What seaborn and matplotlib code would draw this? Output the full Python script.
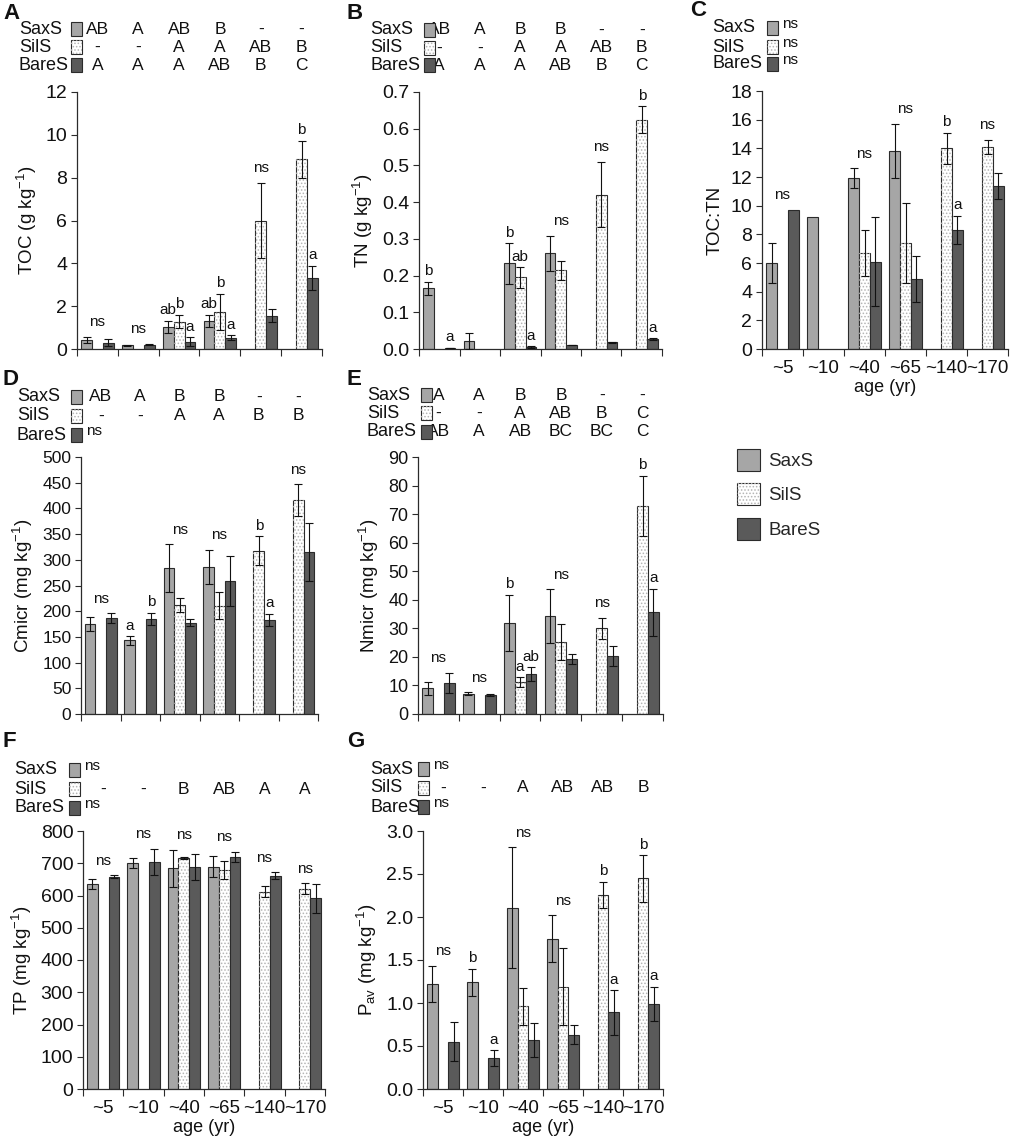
import numpy as np
import pandas as pd
import matplotlib
matplotlib.use("Agg")
import matplotlib.pyplot as plt
import matplotlib.transforms as mtransforms
from matplotlib.patches import Patch, Rectangle
from matplotlib.ticker import FormatStrFormatter, FixedLocator
import seaborn as sns

nan = np.nan
ages = ["~5", "~10", "~40", "~65", "~140", "~170"]
sites = ["SaxS", "SilS", "BareS"]

# ---- A: TOC ----
toc_sax = [0.42, 0.17, 1.05, 1.32, nan, nan]
toc_sax_err = [0.15, 0.03, 0.28, 0.28, nan, nan]
toc_sil = [nan, nan, 1.28, 1.72, 6.0, 8.86]
toc_sil_err = [nan, nan, 0.32, 0.85, 1.75, 0.87]
toc_bare = [0.30, 0.21, 0.34, 0.53, 1.55, 3.32]
toc_bare_err = [0.15, 0.03, 0.22, 0.11, 0.30, 0.57]
# ---- B: TN ----
tn_sax = [0.165, 0.022, 0.233, 0.261, nan, nan]
tn_sax_err = [0.018, 0.022, 0.055, 0.048, nan, nan]
tn_sil = [nan, nan, 0.195, 0.214, 0.420, 0.625]
tn_sil_err = [nan, nan, 0.028, 0.027, 0.089, 0.036]
tn_bare = [0.003, nan, 0.005, 0.011, 0.018, 0.027]
tn_bare_err = [0.001, nan, 0.002, 0.001, 0.002, 0.003]
# ---- C: TOC:TN ----
ctn_sax = [6.0, 9.2, 11.9, 13.8, nan, nan]
ctn_sax_err = [1.4, nan, 0.7, 1.9, nan, nan]
ctn_sil = [nan, nan, 6.7, 7.4, 14.0, 14.1]
ctn_sil_err = [nan, nan, 1.6, 2.8, 1.1, 0.5]
ctn_bare = [9.7, nan, 6.1, 4.9, 8.3, 11.4]
ctn_bare_err = [nan, nan, 3.1, 1.6, 1.0, 0.9]
# ---- D: Cmicr ----
cmic_sax = [175, 143, 284, 286, nan, nan]
cmic_sax_err = [13, 8, 46, 34, nan, nan]
cmic_sil = [nan, nan, 212, 211, 318, 416]
cmic_sil_err = [nan, nan, 13, 27, 28, 31]
cmic_bare = [187, 185, 178, 259, 183, 315]
cmic_bare_err = [9, 12, 6, 49, 12, 57]
# ---- E: Nmicr ----
nmic_sax = [9.0, 7.1, 31.8, 34.2, nan, nan]
nmic_sax_err = [2.2, 0.5, 9.9, 9.4, nan, nan]
nmic_sil = [nan, nan, 11.1, 25.2, 30.0, 73.0]
nmic_sil_err = [nan, nan, 1.8, 6.3, 3.7, 10.5]
nmic_bare = [10.9, 6.7, 14.0, 19.2, 20.3, 35.6]
nmic_bare_err = [3.5, 0.4, 2.3, 1.8, 3.5, 8.3]
# ---- F: TP ----
tp_sax = [635, 700, 684, 689, nan, nan]
tp_sax_err = [15, 15, 58, 33, nan, nan]
tp_sil = [nan, nan, 716, 679, 612, 621]
tp_sil_err = [nan, nan, 2, 28, 17, 17]
tp_bare = [658, 705, 689, 720, 661, 591]
tp_bare_err = [5, 40, 40, 16, 11, 45]
# ---- G: Pav ----
pav_sax = [1.22, 1.24, 2.11, 1.75, nan, nan]
pav_sax_err = [0.21, 0.16, 0.70, 0.27, nan, nan]
pav_sil = [nan, nan, 0.96, 1.19, 2.26, 2.45]
pav_sil_err = [nan, nan, 0.21, 0.45, 0.15, 0.27]
pav_bare = [0.55, 0.36, 0.57, 0.63, 0.89, 0.99]
pav_bare_err = [0.23, 0.09, 0.20, 0.11, 0.26, 0.20]

# significance letters above bars: (age index, site or None for group, text)
annot_a = [(0, None, "ns"), (1, None, "ns"), (2, "SaxS", "ab"), (2, "SilS", "b"), (2, "BareS", "a"),
           (3, "SaxS", "ab"), (3, "SilS", "b"), (3, "BareS", "a"), (4, None, "ns"),
           (5, "SilS", "b"), (5, "BareS", "a")]
annot_b = [(0, "SaxS", "b"), (0, "BareS", "a"), (2, "SaxS", "b"), (2, "SilS", "ab"), (2, "BareS", "a"),
           (3, None, "ns"), (4, None, "ns"), (5, "SilS", "b"), (5, "BareS", "a")]
annot_c = [(0, None, "ns"), (2, None, "ns"), (3, None, "ns"), (4, "SilS", "b"), (4, "BareS", "a"),
           (5, None, "ns")]
annot_d = [(0, None, "ns"), (1, "SaxS", "a"), (1, "BareS", "b"), (2, None, "ns"), (3, None, "ns"),
           (4, "SilS", "b"), (4, "BareS", "a"), (5, None, "ns")]
annot_e = [(0, None, "ns"), (1, None, "ns"), (2, "SaxS", "b"), (2, "SilS", "a"), (2, "BareS", "ab"),
           (3, None, "ns"), (4, None, "ns"), (5, "SilS", "b"), (5, "BareS", "a")]
annot_f = [(0, None, "ns"), (1, None, "ns"), (2, None, "ns"), (3, None, "ns"), (4, None, "ns"),
           (5, None, "ns")]
annot_g = [(0, None, "ns"), (1, "SaxS", "b"), (1, "BareS", "a"), (2, None, "ns"), (3, None, "ns"),
           (4, "SilS", "b"), (4, "BareS", "a"), (5, "SilS", "b"), (5, "BareS", "a")]

# letters in the tables above each panel
tab_a = {"SaxS": ["AB", "A", "AB", "B", "-", "-"], "SilS": ["-", "-", "A", "A", "AB", "B"],
         "BareS": ["A", "A", "A", "AB", "B", "C"]}
tab_b = {"SaxS": ["AB", "A", "B", "B", "-", "-"], "SilS": ["-", "-", "A", "A", "AB", "B"],
         "BareS": ["A", "A", "A", "AB", "B", "C"]}
tab_c = {"SaxS": "ns", "SilS": "ns", "BareS": "ns"}
tab_d = {"SaxS": ["AB", "A", "B", "B", "-", "-"], "SilS": ["-", "-", "A", "A", "B", "B"],
         "BareS": "ns"}
tab_e = {"SaxS": ["A", "A", "B", "B", "-", "-"], "SilS": ["-", "-", "A", "AB", "B", "C"],
         "BareS": ["AB", "A", "AB", "BC", "BC", "C"]}
tab_f = {"SaxS": "ns", "SilS": ["-", "-", "B", "AB", "A", "A"], "BareS": "ns"}
tab_g = {"SaxS": "ns", "SilS": ["-", "-", "A", "AB", "AB", "B"], "BareS": "ns"}

# ---------------- style ----------------
sns.set_theme(style="ticks")
plt.rcParams["font.family"] = ["Liberation Sans", "DejaVu Sans"]
plt.rcParams["mathtext.default"] = "regular"
plt.rcParams["hatch.linewidth"] = 0.7

palette = {"SaxS": "#a6a6a6", "SilS": "#ffffff", "BareS": "#5a5a5a"}
EDGE = "#2b2b2b"
DOTS = "#b5b5b5"
HATCH = "....."
TXT = "#111111"

W, H = 1010, 1142
fig = plt.figure(figsize=(W / 100, H / 100), dpi=100)


def add_axes_px(l, t, r, b):
    return fig.add_axes([l / W, 1 - b / H, (r - l) / W, (b - t) / H])


offsets = {s: (i - 1) * 0.8 / 3 for i, s in enumerate(sites)}


def draw_panel(p):
    ax = add_axes_px(*p["rect"])
    means = {"SaxS": p["sax"], "SilS": p["sil"], "BareS": p["bare"]}
    errs = {"SaxS": p["sax_e"], "SilS": p["sil_e"], "BareS": p["bare_e"]}
    rows = []
    for s in sites:
        for a, v, e in zip(ages, means[s], errs[s]):
            if not np.isnan(v):
                rows.append({"age": a, "site": s, "value": v, "err": e})
    df = pd.DataFrame(rows)
    sns.barplot(data=df, x="age", y="value", hue="site", order=ages, hue_order=sites,
                palette=palette, errorbar=None, edgecolor=EDGE, linewidth=0.8,
                legend=False, ax=ax, zorder=2)
    # dotted fill for SilS bars
    for patch in list(ax.patches):
        fc = patch.get_facecolor()
        if fc[0] > 0.95 and fc[1] > 0.95 and fc[2] > 0.95:
            ov = Rectangle(patch.get_xy(), patch.get_width(), patch.get_height(),
                           facecolor="none", edgecolor=DOTS, linewidth=0, hatch=HATCH, zorder=2.5)
            ax.add_patch(ov)
    # error bars
    d = df.dropna(subset=["err"])
    xs = [ages.index(a) + offsets[s] for a, s in zip(d["age"], d["site"])]
    ax.errorbar(xs, d["value"], yerr=d["err"], fmt="none", ecolor=TXT,
                elinewidth=0.8, capsize=2.8, capthick=0.8, zorder=4)
    # significance letters
    for g, s, txt in p["annot"]:
        if s is None:
            tops = []
            for ss in sites:
                v, e = means[ss][g], errs[ss][g]
                if not np.isnan(v):
                    tops.append(v + (0 if np.isnan(e) else e))
            x, y, off = g, max(tops), 5.5
        else:
            v, e = means[s][g], errs[s][g]
            x, y, off = g + offsets[s], v + (0 if np.isnan(e) else e), 2.5
        ax.annotate(txt, (x, y), xytext=(0, off), textcoords="offset points",
                    ha="center", va="bottom", fontsize=11, color=TXT)
    # axes styling
    tfs = p["tfs"]
    ax.set_xlim(-0.5, 5.5)
    ax.set_ylim(p["ylim"])
    ax.set_yticks(p["yticks"])
    if p.get("fmt"):
        ax.yaxis.set_major_formatter(FormatStrFormatter(p["fmt"]))
    sns.despine(ax=ax)
    for sp in ("left", "bottom"):
        ax.spines[sp].set_color(EDGE)
        ax.spines[sp].set_linewidth(0.9)
    ax.tick_params(axis="y", left=True, direction="out", length=4, width=0.8,
                   color=EDGE, labelsize=tfs, pad=3, labelcolor=TXT)
    ax.xaxis.set_minor_locator(FixedLocator(np.arange(-0.5, 6, 1)))
    ax.tick_params(axis="x", which="minor", bottom=True, direction="out", length=5,
                   width=0.8, color=EDGE)
    ax.tick_params(axis="x", which="major", bottom=True, length=0, labelsize=13.5,
                   pad=8, labelcolor=TXT)
    if p["xlabels"]:
        ax.set_xticks(range(6))
        ax.set_xticklabels(ages)
        ax.set_xlabel("age (yr)", fontsize=13, labelpad=1, color=TXT)
    else:
        ax.set_xticklabels([])
        ax.set_xlabel("")
    ax.set_ylabel(p["ylabel"], fontsize=13.5, color=TXT, labelpad=5)
    ax.grid(False)

    # table above axes
    trans = mtransforms.blended_transform_factory(ax.transData, fig.transFigure)
    for i, s in enumerate(sites):
        ypx = p["rows_y"][i]
        yf = 1 - ypx / H
        fig.text(p["label_x"] / W, yf, s, ha="left", va="center", fontsize=13, color=TXT)
        sx = p["swatch_x"]
        sw = Rectangle((sx / W, 1 - (ypx + 7) / H), 11 / W, 14 / H, transform=fig.transFigure,
                       facecolor=palette[s], edgecolor=EDGE, linewidth=0.8)
        fig.add_artist(sw)
        if s == "SilS":
            fig.add_artist(Rectangle((sx / W, 1 - (ypx + 7) / H), 11 / W, 14 / H,
                                     transform=fig.transFigure, facecolor="none",
                                     edgecolor=DOTS, linewidth=0, hatch=HATCH))
        letters = p["table"][s]
        if isinstance(letters, str):
            fig.text((sx + 15) / W, yf + 4 / H, letters, ha="left", va="center",
                     fontsize=11, color=TXT)
        else:
            for g, t in enumerate(letters):
                ax.text(g, yf, t, transform=trans, ha="center", va="center",
                        fontsize=12.5, color=TXT)
    fig.text(p["letter_xy"][0] / W, 1 - p["letter_xy"][1] / H, p["letter"],
             ha="left", va="top", fontsize=16, fontweight="bold", color=TXT)
    return ax


panels = [
    dict(letter="A", letter_xy=(3, 3), rect=(77, 92, 322, 349), sax=toc_sax, sax_e=toc_sax_err,
         sil=toc_sil, sil_e=toc_sil_err, bare=toc_bare, bare_e=toc_bare_err, annot=annot_a,
         table=tab_a, ylim=(0, 12), yticks=np.arange(0, 13, 2), fmt=None, tfs=14,
         ylabel="TOC (g kg$^{-1}$)", xlabels=False, rows_y=(29, 47, 65), label_x=19, swatch_x=71),
    dict(letter="B", letter_xy=(347, 3), rect=(419, 92, 662, 349), sax=tn_sax, sax_e=tn_sax_err,
         sil=tn_sil, sil_e=tn_sil_err, bare=tn_bare, bare_e=tn_bare_err, annot=annot_b,
         table=tab_b, ylim=(0, 0.7), yticks=np.arange(0, 0.71, 0.1), fmt="%.1f", tfs=14,
         ylabel="TN (g kg$^{-1}$)", xlabels=False, rows_y=(30, 48, 65), label_x=370, swatch_x=424),
    dict(letter="C", letter_xy=(690, 0), rect=(762, 91, 1008, 349), sax=ctn_sax, sax_e=ctn_sax_err,
         sil=ctn_sil, sil_e=ctn_sil_err, bare=ctn_bare, bare_e=ctn_bare_err, annot=annot_c,
         table=tab_c, ylim=(0, 18), yticks=np.arange(0, 19, 2), fmt=None, tfs=14,
         ylabel="TOC:TN", xlabels=True, rows_y=(28, 47, 64), label_x=712, swatch_x=767),
    dict(letter="D", letter_xy=(3, 369), rect=(81, 457, 318, 714), sax=cmic_sax, sax_e=cmic_sax_err,
         sil=cmic_sil, sil_e=cmic_sil_err, bare=cmic_bare, bare_e=cmic_bare_err, annot=annot_d,
         table=tab_d, ylim=(0, 500), yticks=np.arange(0, 501, 50), fmt=None, tfs=12.5,
         ylabel="Cmicr (mg kg$^{-1}$)", xlabels=False, rows_y=(397, 416, 435), label_x=17, swatch_x=71),
    dict(letter="E", letter_xy=(347, 369), rect=(418, 457, 663, 714), sax=nmic_sax, sax_e=nmic_sax_err,
         sil=nmic_sil, sil_e=nmic_sil_err, bare=nmic_bare, bare_e=nmic_bare_err, annot=annot_e,
         table=tab_e, ylim=(0, 90), yticks=np.arange(0, 91, 10), fmt=None, tfs=13,
         ylabel="Nmicr (mg kg$^{-1}$)", xlabels=False, rows_y=(395, 413, 432), label_x=367, swatch_x=421),
    dict(letter="F", letter_xy=(3, 731), rect=(83, 831, 325, 1089), sax=tp_sax, sax_e=tp_sax_err,
         sil=tp_sil, sil_e=tp_sil_err, bare=tp_bare, bare_e=tp_bare_err, annot=annot_f,
         table=tab_f, ylim=(0, 800), yticks=np.arange(0, 801, 100), fmt=None, tfs=14,
         ylabel="TP (mg kg$^{-1}$)", xlabels=True, rows_y=(770, 789, 808), label_x=14, swatch_x=69),
    dict(letter="G", letter_xy=(347, 731), rect=(423, 831, 663, 1089), sax=pav_sax, sax_e=pav_sax_err,
         sil=pav_sil, sil_e=pav_sil_err, bare=pav_bare, bare_e=pav_bare_err, annot=annot_g,
         table=tab_g, ylim=(0, 3.0), yticks=np.arange(0, 3.01, 0.5), fmt="%.1f", tfs=14,
         ylabel="P$_{av}$ (mg kg$^{-1}$)", xlabels=True, rows_y=(769, 788, 807), label_x=370, swatch_x=418),
]

for p in panels:
    draw_panel(p)

# legend
handles = []
for s in sites:
    base = Patch(facecolor=palette[s], edgecolor=EDGE, linewidth=0.8)
    if s == "SilS":
        handles.append((base, Patch(facecolor="none", edgecolor=DOTS, linewidth=0, hatch=HATCH)))
    else:
        handles.append(base)
fig.legend(handles=handles, labels=sites, loc="upper left",
           bbox_to_anchor=(731 / W, 1 - 443 / H), frameon=False, fontsize=13.5,
           handlelength=1.25, handleheight=1.45, labelspacing=0.65, handletextpad=0.45,
           borderaxespad=0, borderpad=0.3)

fig.savefig("out.png", dpi=100, facecolor="white")
